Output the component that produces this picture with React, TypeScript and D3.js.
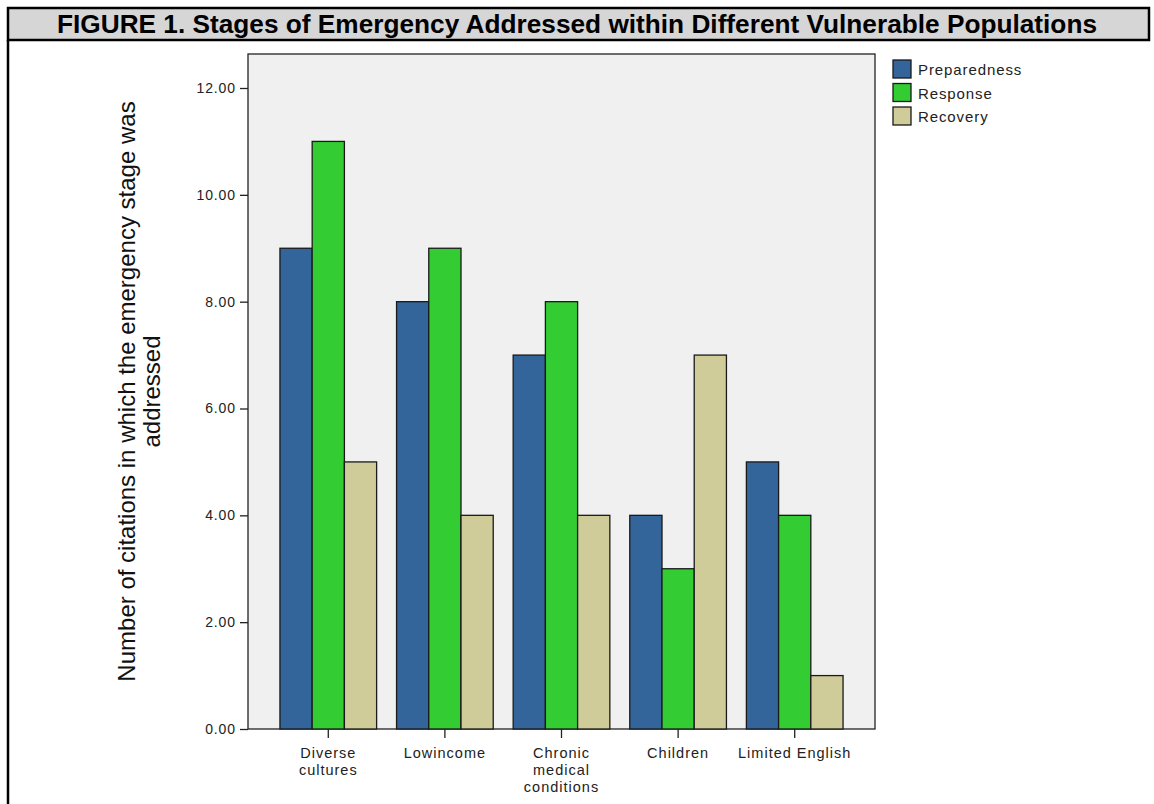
import React, { useEffect, useRef } from 'react';
import * as d3 from 'd3';

const categories = ['Diverse cultures', 'Lowincome', 'Chronic medical conditions', 'Children', 'Limited English'];
const categoryLines = [['Diverse', 'cultures'], ['Lowincome'], ['Chronic', 'medical', 'conditions'], ['Children'], ['Limited English']];
const seriesNames = ['Preparedness', 'Response', 'Recovery'];
const preparedness = [9, 8, 7, 4, 5];
const response = [11, 9, 8, 3, 4];
const recovery = [5, 4, 4, 7, 1];
const seriesColors = ['#33649a', '#33cc33', '#cfcc99'];
const yTicks = [0, 2, 4, 6, 8, 10, 12];

const App: React.FC = () => {
  const svgRef = useRef<SVGSVGElement>(null);

  useEffect(() => {
    if (!svgRef.current) return;
    const svg = d3.select(svgRef.current);
    svg.selectAll('*').remove();

    const width = 1154;
    const height = 804;
    const font = 'Arial, "Liberation Sans", sans-serif';

    // frame + title band
    svg.append('rect').attr('width', width).attr('height', height).attr('fill', '#fff');
    svg.append('rect')
      .attr('x', 8).attr('y', 8).attr('width', 1141).attr('height', 32)
      .attr('fill', '#d6d6d6').attr('stroke', '#000').attr('stroke-width', 2.5);
    svg.append('line')
      .attr('x1', 8).attr('x2', 8).attr('y1', 40).attr('y2', height)
      .attr('stroke', '#000').attr('stroke-width', 2.5);
    svg.append('text')
      .attr('x', 577).attr('y', 33)
      .attr('text-anchor', 'middle')
      .attr('textLength', 1040)
      .attr('lengthAdjust', 'spacingAndGlyphs')
      .style('font-family', font)
      .style('font-weight', 'bold')
      .style('font-size', '25px')
      .text('FIGURE 1. Stages of Emergency Addressed within Different Vulnerable Populations');

    // plot area
    const plot = { left: 248, right: 875, top: 54, bottom: 729 };

    const x0 = d3.scaleBand<string>()
      .domain(categories)
      .range([plot.left, plot.right])
      .paddingInner(0.171)
      .paddingOuter(0.274);
    const x1 = d3.scaleBand<string>()
      .domain(seriesNames)
      .range([0, x0.bandwidth()]);
    const y = d3.scaleLinear().domain([0, 12]).range([729, 88]);

    svg.append('rect')
      .attr('x', plot.left).attr('y', plot.top)
      .attr('width', plot.right - plot.left).attr('height', plot.bottom - plot.top)
      .attr('fill', '#f0f0f0').attr('stroke', '#222').attr('stroke-width', 1.3);

    const allSeries = [preparedness, response, recovery];
    categories.forEach((cat, i) => {
      seriesNames.forEach((s, j) => {
        const v = allSeries[j][i];
        svg.append('rect')
          .attr('x', (x0(cat) || 0) + (x1(s) || 0))
          .attr('y', y(v))
          .attr('width', x1.bandwidth())
          .attr('height', y(0) - y(v))
          .attr('fill', seriesColors[j])
          .attr('stroke', '#1a1a1a')
          .attr('stroke-width', 1.3);
      });
    });

    // y axis
    const yAxis = svg.append('g')
      .attr('transform', `translate(${plot.left},0)`)
      .call(d3.axisLeft(y).tickValues(yTicks).tickSize(8).tickPadding(4).tickFormat(d => d3.format('.2f')(d as number)));
    yAxis.select('.domain').remove();
    yAxis.selectAll('line').attr('stroke', '#222').attr('stroke-width', 1.3);
    yAxis.selectAll('text')
      .style('font-family', font)
      .style('font-size', '14px')
      .style('letter-spacing', '0.9px')
      .attr('fill', '#222');

    // x axis
    const xAxis = svg.append('g')
      .attr('transform', `translate(0,${plot.bottom})`)
      .call(d3.axisBottom(x0).tickSize(9).tickFormat(() => ''));
    xAxis.select('.domain').remove();
    xAxis.selectAll('line').attr('stroke', '#222').attr('stroke-width', 1.3);

    categories.forEach((cat, i) => {
      const cx = (x0(cat) || 0) + x0.bandwidth() / 2;
      const t = svg.append('text')
        .attr('text-anchor', 'middle')
        .style('font-family', font)
        .style('font-size', '14.5px')
        .style('letter-spacing', '1px')
        .attr('fill', '#222');
      categoryLines[i].forEach((line, k) => {
        t.append('tspan').attr('x', cx).attr('y', 758 + k * 17).text(line);
      });
    });

    // y axis title
    const cy = (plot.top + plot.bottom) / 2;
    const yt = svg.append('text')
      .attr('transform', `translate(135,${cy}) rotate(-90)`)
      .attr('text-anchor', 'middle')
      .style('font-family', font)
      .style('font-size', '24px')
      .attr('fill', '#111');
    yt.append('tspan').attr('x', 0).attr('y', 0).text('Number of citations in which the emergency stage was');
    yt.append('tspan').attr('x', 0).attr('y', 25).text('addressed');

    // legend
    const legend = svg.append('g').attr('transform', 'translate(893,60)');
    seriesNames.forEach((s, j) => {
      legend.append('rect')
        .attr('x', 0).attr('y', j * 23.5)
        .attr('width', 18).attr('height', 18)
        .attr('fill', seriesColors[j])
        .attr('stroke', '#1a1a1a').attr('stroke-width', 1.3);
      legend.append('text')
        .attr('x', 25).attr('y', j * 23.5 + 15)
        .style('font-family', font)
        .style('font-size', '15px')
        .style('letter-spacing', '0.9px')
        .attr('fill', '#222')
        .text(s);
    });
  }, []);

  return (
    <svg ref={svgRef} width={1154} height={804} style={{ position: 'absolute', left: 0, top: 0 }} />
  );
};

export default App;
